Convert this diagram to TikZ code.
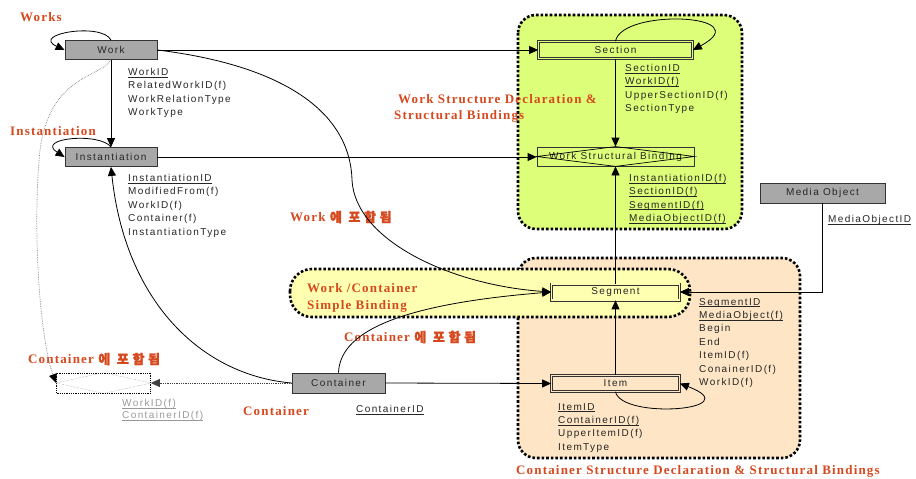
\documentclass[tikz,border=0pt]{standalone}
\usepackage{amsmath}
\usepackage{fontspec}
\usetikzlibrary{positioning,arrows.meta}
\newfontfamily\boxfont{Liberation Sans}[LetterSpace=14]
\newfontfamily\lblfont{Liberation Serif}[LetterSpace=9]
\newfontfamily\krfont{Noto Sans CJK KR}[LetterSpace=28,FakeBold=2]
\definecolor{boxgray}{RGB}{168,168,168}
\definecolor{wsgreen}{RGB}{221,254,120}
\definecolor{cspeach}{RGB}{253,229,197}
\definecolor{sbyellow}{RGB}{255,255,178}
\definecolor{lblred}{RGB}{214,72,30}
\newcommand{\ukey}[1]{\underline{\smash[b]{#1}}}
\newcommand{\kr}[1]{{\krfont\fontsize{13}{13}\selectfont #1}}

\begin{document}
\begin{tikzpicture}[x=1pt,y=-1pt,
    >={Triangle[length=9pt,width=8pt]},
    every node/.style={inner sep=0pt},
    entity/.style={draw=black!80, fill=boxgray, line width=.8pt,
        minimum width=92, minimum height=19, text=black!85,
        font=\boxfont\fontsize{10}{12}\selectfont},
    dentity/.style={draw=black!80, line width=.7pt, double distance=1.6pt,
        minimum width=128, minimum height=16, text=black!85,
        font=\boxfont\fontsize{10}{12}\selectfont},
    attrs/.style={anchor=north west, align=left, text=black!85,
        font=\boxfont\fontsize{10}{13.4}\selectfont},
    lbl/.style={anchor=west, align=left, text=lblred,
        font=\lblfont\bfseries\fontsize{13}{16.5}\selectfont},
    region/.style={line width=2.6pt, dash pattern=on 2.6pt off 2pt,
        rounded corners=18},
    link/.style={->, line width=.8pt}]

    \useasboundingbox (0,0) rectangle (916,479);

    % grouping regions
    \draw[region, fill=wsgreen] (518,15) rectangle (742,229);
    \draw[region, fill=cspeach] (518,258) rectangle (800,458);
    \draw[region, fill=sbyellow, rounded corners=22] (290,269) rectangle (690,317);

    \node[entity] (work) at (111,50) {Work};
    \node[entity] (inst) at (111,157) {Instantiation};
    \node[entity, minimum width=93, minimum height=20] (cont) at (338.5,383) {Container};
    \node[entity, minimum width=125, minimum height=20] (mo) at (822.5,193) {Media Object};
    \node[dentity, fill=wsgreen, double=wsgreen, minimum width=154, minimum height=17]
        (sec) at (615.5,50) {Section};
    \node[draw=black!80, line width=.8pt, minimum width=157, minimum height=19,
        text=black!85, font=\boxfont\fontsize{10}{12}\selectfont]
        (wsb) at (615.5,156.5) {Work Structural Binding};
    \node[dentity, fill=sbyellow, double=sbyellow] (seg) at (615.5,292) {Segment};
    \node[dentity, fill=cspeach, double=cspeach] (item) at (615.5,383.5) {Item};
    \node[draw=black, densely dotted, line width=.8pt, minimum width=94, minimum height=20]
        (cbox) at (103.5,383) {};
    \draw[line width=.7pt] (wsb.west) -- (wsb.north) -- (wsb.east) -- (wsb.south) -- cycle;
    \draw[gray, densely dotted] (cbox.west) -- (cbox.north) -- (cbox.east) -- (cbox.south) -- cycle;

    % attributes
    \node[attrs] (workatt) at (128,68) {\ukey{WorkID}\\RelatedWorkID(f)\\WorkRelationType\\WorkType};
    \node[attrs] (instatt) at (128,174) {\ukey{InstantiationID}\\ModifiedFrom(f)\\WorkID(f)\\Container(f)\\InstantiationType};
    \node[attrs] (secatt) at (625,64) {\ukey{SectionID}\\\ukey{WorkID(f)}\\UpperSectionID(f)\\SectionType};
    \node[attrs] (wsbatt) at (629,174) {\ukey{InstantiationID(f)}\\\ukey{SectionID(f)}\\\ukey{SegmentID(f)}\\\ukey{MediaObjectID(f)}};
    \node[attrs] (moatt) at (828,215) {\ukey{MediaObjectID}};
    \node[attrs] (segatt) at (699,298) {\ukey{SegmentID}\\\ukey{MediaObject(f)}\\Begin\\End\\ItemID(f)\\ConainerID(f)\\WorkID(f)};
    \node[attrs] (itematt) at (558,403) {\ukey{ItemID}\\\ukey{ContainerID(f)}\\UpperItemID(f)\\ItemType};
    \node[attrs] (contatt) at (356,405) {\ukey{ContainerID}};
    \node[attrs, text=gray!80, font=\boxfont\fontsize{10}{12.5}\selectfont] (cboxatt) at (122,399)
        {\ukey{WorkID(f)}\\\ukey{ContainerID(f)}};

    % labels
    \node[lbl] (lworks) at (20,17) {Works};
    \node[lbl] (linst) at (10,131) {Instantiation};
    \node[lbl] (lwsd) at (394,108.5) {\hspace*{4pt}Work Structure Declaration \&\\Structural Bindings};
    \node[lbl] (lworkin) at (290,217) {Work \kr{에 포함됨}};
    \node[lbl] (lsimple) at (307,298) {Work /Container\\Simple Binding};
    \node[lbl] (lcontin) at (344,337) {Container \kr{에 포함됨}};
    \node[lbl] (lcontleft) at (28,359) {Container \kr{에 포함됨}};
    \node[lbl] (lcont) at (243,411) {Container};
    \node[lbl] (lcsd) at (516,471) {Container Structure Declaration \& Structural Bindings};

    % connectors
    \draw[link] (work.north) .. controls (102,22) and (30,34) .. (work.west);
    \draw[link] (inst.north) .. controls (100,132) and (35,138) .. (inst.west);
    \draw[link] (sec.north) .. controls (622,8) and (760,14) .. (sec.east);
    \draw[link] (item.south) .. controls (622,420) and (750,410) .. (item.east);
    \draw[link] (work.south) -- (inst.north);
    \draw[link] (work.east) -- (sec.west);
    \draw[link] (inst.east) -- (inst.east -| wsb.west);
    \draw[link] (sec.south) -- (wsb.north);
    \draw[link] (seg.north) -- (wsb.south);
    \draw[link] (item.north) -- (seg.south);
    \draw[link] (cont.east) -- (item.west);
    \draw[link] (mo.south) |- (seg.east);
    \draw[link] (work.east) .. controls (280,65) and (350,110) .. (352,180)
        .. controls (355,240) and (450,285) .. (seg.west);
    \draw[link] (cont.north) .. controls (340,335) and (390,305) .. (seg.west);
    \draw[link] (cont.west) .. controls (200,375) and (125,300) .. (inst.south);
    \draw[link, black!75, densely dotted] (cont.west) -- (cbox.east);
    \draw[-{Triangle[length=9pt,width=8pt,black]}, gray, densely dotted, line width=.7pt]
        (work.south) .. controls (100,78) and (50,75) .. (40,150)
        .. controls (32,230) and (40,340) .. (cbox.west);

\end{tikzpicture}
\end{document}
